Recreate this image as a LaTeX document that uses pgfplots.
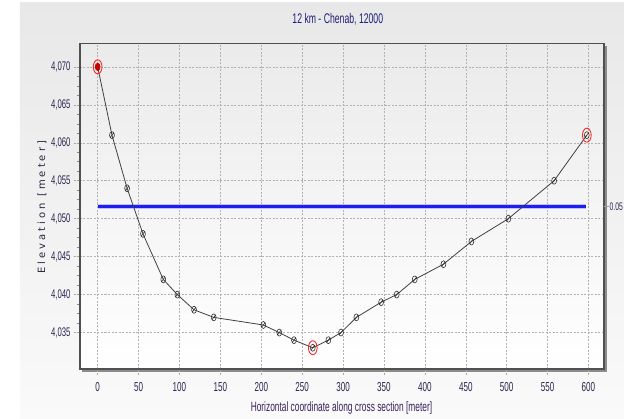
\documentclass[border=0pt]{standalone}
\usepackage{fontspec}
\setmainfont{Liberation Sans}[FakeStretch=0.62]
\newfontfamily\ylabfont{DejaVu Sans}[LetterSpace=30]
\usepackage{pgfplots}
\pgfplotsset{compat=1.18}
\definecolor{ticklab}{RGB}{40,40,80}
\definecolor{titleblue}{RGB}{30,30,120}
\definecolor{xlabcol}{RGB}{60,30,90}
\definecolor{ylabcol}{RGB}{40,40,64}
\definecolor{framecol}{RGB}{80,80,80}
\definecolor{lvlblue}{RGB}{30,30,240}
\pgfdeclareplotmark{slashcirc}{%
  \pgfpathellipse{\pgfpointorigin}{\pgfqpoint{0.7\pgfplotmarksize}{0pt}}{\pgfqpoint{0pt}{\pgfplotmarksize}}%
  \pgfpathmoveto{\pgfqpoint{-0.45\pgfplotmarksize}{-0.6\pgfplotmarksize}}%
  \pgfpathlineto{\pgfqpoint{0.45\pgfplotmarksize}{0.6\pgfplotmarksize}}%
  \pgfusepathqstroke}
\pgfdeclareplotmark{redring}{%
  \pgfpathellipse{\pgfpointorigin}{\pgfqpoint{0.62\pgfplotmarksize}{0pt}}{\pgfqpoint{0pt}{\pgfplotmarksize}}%
  \pgfusepathqstroke}
\pgfdeclareplotmark{reddot}{%
  \pgfpathellipse{\pgfpointorigin}{\pgfqpoint{0.62\pgfplotmarksize}{0pt}}{\pgfqpoint{0pt}{\pgfplotmarksize}}%
  \pgfusepathqfill}
\begin{document}
\begin{tikzpicture}
\useasboundingbox (-80pt,-49pt) rectangle (544pt,369pt);
\fill[top color=black!9, bottom color=black!2] (-60pt,-49pt) rectangle (544pt,366pt);
\fill[black!45] (2.5pt,-2.5pt) rectangle (526.5pt,323pt);
\begin{axis}[
  at={(0pt,0pt)}, anchor=south west,
  scale only axis, width=524pt, height=325.7pt,
  xmin=-21.6, xmax=619, ymin=4030.2, ymax=4073.1,
  clip=false,
  axis background/.style={top color=black!8, bottom color=white},
  axis line style={draw=framecol, line width=1.6pt},
  xtick={0,50,...,600}, ytick={4035,4040,...,4070},
  minor tick num=3,
  xtick pos=bottom, ytick pos=left,
  tick align=outside,
  major tick length=6pt, minor tick length=3pt,
  major tick style={black!35, dash pattern=on 2pt off 1pt, line width=0.5pt},
  minor tick style={black!45, line width=0.5pt},
  grid=major,
  major grid style={black!30, dash pattern=on 2pt off 1.5pt, line width=0.5pt},
  /pgf/number format/assume math mode=true,
  /pgf/number format/1000 sep={,},
  xticklabel style={font=\fontsize{13}{13}\selectfont, color=ticklab, yshift=-4pt},
  yticklabel style={font=\fontsize{12.5}{12.5}\selectfont, color=ticklab},
  title={12 km - Chenab, 12000},
  title style={at={(0.492,1.055)}, anchor=center, font=\fontsize{14}{14}\selectfont, color=titleblue},
  xlabel={Horizontal coordinate along cross section [meter]},
  xlabel style={at={(0.499,-0.12)}, anchor=center, font=\fontsize{13.5}{13.5}\selectfont, color=xlabcol},
  ylabel={Elevation [meter]},
  ylabel style={at={(-0.0725,0.497)}, anchor=center, font=\ylabfont\fontsize{10}{10}\selectfont, color=ylabcol},
]
\addplot[blue!25, line width=5pt, forget plot] coordinates {(0,4051.6) (597,4051.6)};
\addplot[lvlblue, line width=2.8pt, forget plot] coordinates {(0,4051.6) (597,4051.6)};
\addplot[black!75, line width=0.8pt, mark=slashcirc, mark size=3.5pt,
  mark options={black!80, line width=0.6pt}] coordinates {
(0,4070) (17.5,4061) (36,4054) (55.4,4048) (80.2,4042) (97.4,4040)
(117.8,4038) (141.9,4037) (202.5,4036) (222,4035) (240,4034) (263,4033)
(282,4034) (297.5,4035) (316.3,4037) (346.5,4039) (365.6,4040) (387.6,4042)
(422.7,4044) (456.9,4047) (502.1,4050) (558,4055) (598,4061)};
\addplot[only marks, mark=redring, mark size=7pt, mark options={red!85, line width=0.9pt}]
  coordinates {(0,4070) (263,4033) (598,4061)};
\addplot[only marks, mark=reddot, mark size=4pt, mark options={red!80!black}]
  coordinates {(0,4070)};
\draw[black!35, dash pattern=on 2pt off 1pt] (axis cs:619,4051.6) -- ++(5pt,0pt);
\node[anchor=west, inner sep=0pt, font=\fontsize{11}{11}\selectfont, color=ticklab]
  at (axis cs:619,4051.6) [xshift=5.5pt] {0.05};
\end{axis}
\end{tikzpicture}
\end{document}
